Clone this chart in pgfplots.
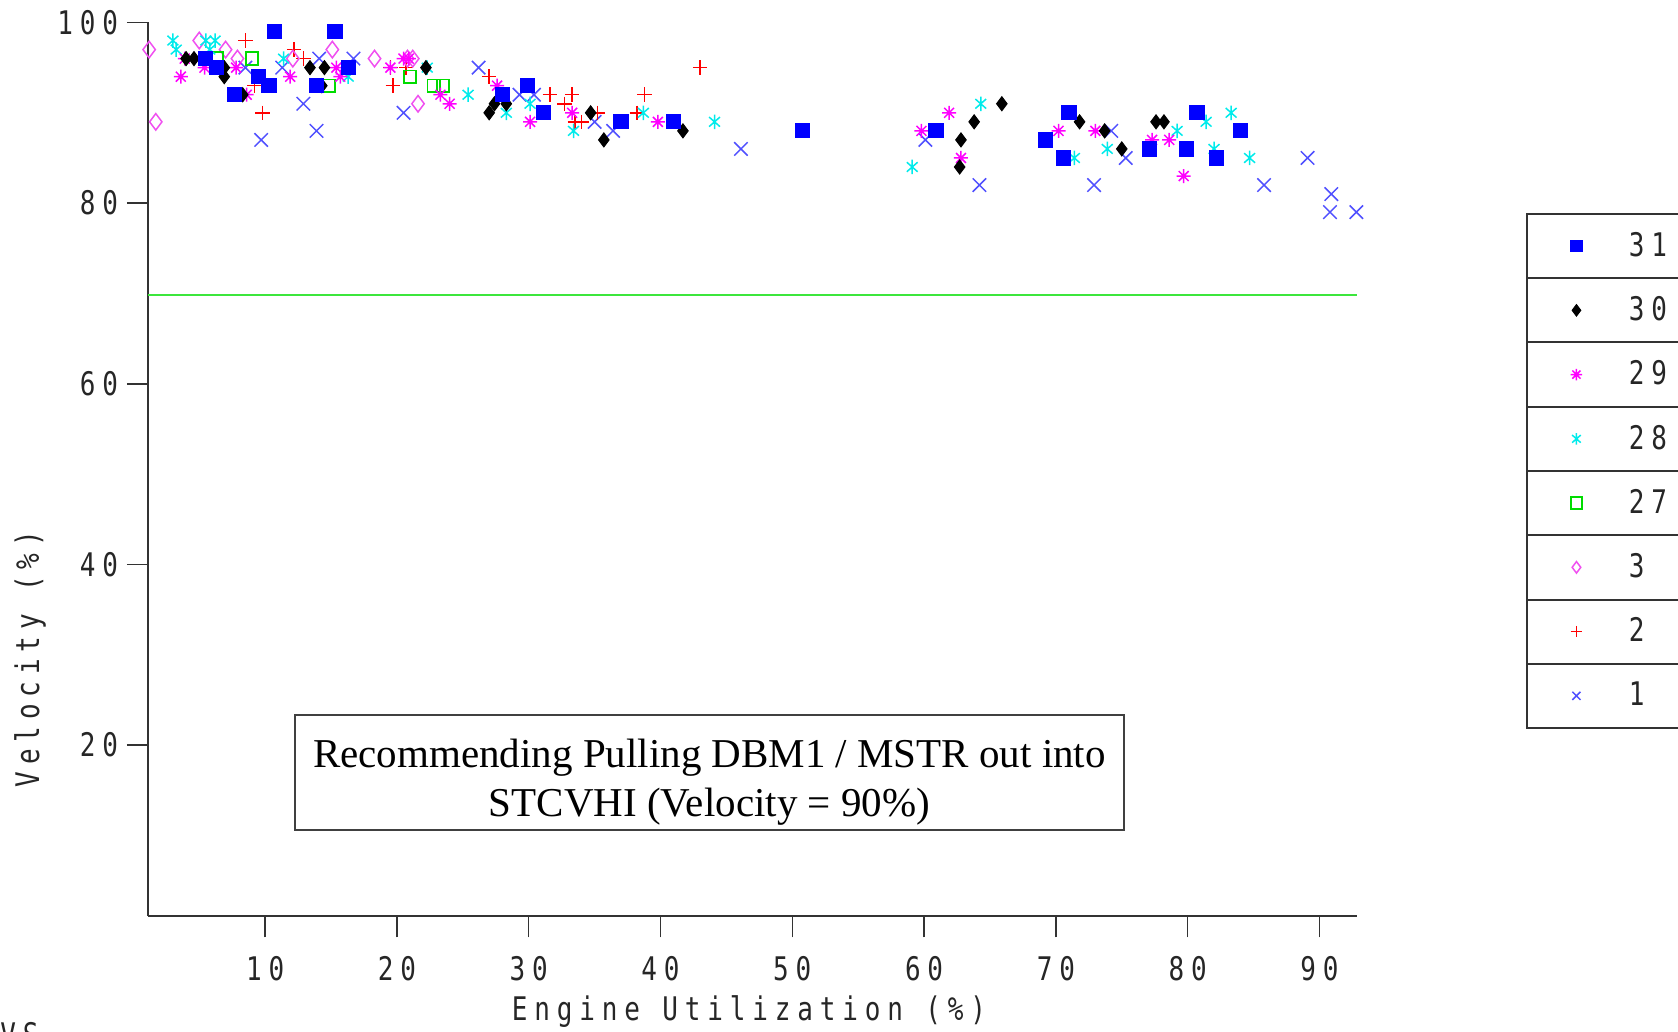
\documentclass[border=0pt]{standalone}
\usepackage{pgfplots}
\pgfplotsset{compat=1.18}
\usepackage{fontspec}
\setmainfont{Liberation Serif}
\newfontfamily\monof[FakeStretch=0.8,LetterSpace=21]{DejaVu Sans Mono}
\definecolor{cB}{RGB}{0,0,255}
\definecolor{cK}{RGB}{0,0,0}
\definecolor{cM}{RGB}{255,0,255}
\definecolor{cC}{RGB}{0,235,235}
\definecolor{cG}{RGB}{0,220,0}
\definecolor{cP}{RGB}{240,80,240}
\definecolor{cR}{RGB}{255,0,0}
\definecolor{cX}{RGB}{80,80,255}
\definecolor{cLine}{RGB}{60,230,60}
\pgfdeclareplotmark{asteight}{%
  \pgfpathmoveto{\pgfqpoint{-\pgfplotmarksize}{0pt}}\pgfpathlineto{\pgfqpoint{\pgfplotmarksize}{0pt}}%
  \pgfpathmoveto{\pgfqpoint{0pt}{-\pgfplotmarksize}}\pgfpathlineto{\pgfqpoint{0pt}{\pgfplotmarksize}}%
  \pgfpathmoveto{\pgfqpoint{-.707\pgfplotmarksize}{-.707\pgfplotmarksize}}\pgfpathlineto{\pgfqpoint{.707\pgfplotmarksize}{.707\pgfplotmarksize}}%
  \pgfpathmoveto{\pgfqpoint{-.707\pgfplotmarksize}{.707\pgfplotmarksize}}\pgfpathlineto{\pgfqpoint{.707\pgfplotmarksize}{-.707\pgfplotmarksize}}%
  \pgfusepathqstroke}
\pgfdeclareplotmark{astsix}{%
  \pgfpathmoveto{\pgfqpoint{0pt}{-\pgfplotmarksize}}\pgfpathlineto{\pgfqpoint{0pt}{\pgfplotmarksize}}%
  \pgfpathmoveto{\pgfqpoint{-.75\pgfplotmarksize}{-.66\pgfplotmarksize}}\pgfpathlineto{\pgfqpoint{.75\pgfplotmarksize}{.66\pgfplotmarksize}}%
  \pgfpathmoveto{\pgfqpoint{-.75\pgfplotmarksize}{.66\pgfplotmarksize}}\pgfpathlineto{\pgfqpoint{.75\pgfplotmarksize}{-.66\pgfplotmarksize}}%
  \pgfusepathqstroke}
\newcommand{\lblfont}{\monof\fontsize{13}{15}\selectfont}
\begin{document}
\begin{tikzpicture}
\begin{axis}[
  name=ax,
  scale only axis,
  width=483.5pt, height=357.4pt,
  xmin=1.13, xmax=92.85, ymin=1.07, ymax=100,
  axis lines=left,
  axis line style={-, black!80, line width=0.8pt},
  xtick={10,20,30,40,50,60,70,80,90},
  ytick={20,40,60,80,100},
  tick align=outside,
  major tick length=8.5pt,
  tick style={black!80, line width=0.6pt},
  /pgf/number format/assume math mode=true,
  ticklabel style={font=\lblfont, text=black!85},
  xticklabel style={anchor=center, inner sep=0pt, yshift=-12.4pt},
  yticklabel style={anchor=east, inner sep=0pt, xshift=-3.4pt},
  xlabel={Engine Utilization (\%)},
  ylabel={Velocity (\%)},
  label style={font=\lblfont, text=black!85},
  xlabel style={at={(axis description cs:0.497,-0.1066)}, anchor=center},
  ylabel style={at={(axis description cs:-0.0978,0.2875)}, anchor=center},
  clip=false,
  reverse legend,
  legend style={at={(axis description cs:1.1408,0.7857)}, anchor=north west,
    draw=none, fill=none, inner sep=0pt, outer sep=0pt, row sep=0pt, column sep=14.7pt,
    nodes={minimum height=25.7pt, inner sep=0pt, anchor=west, font=\lblfont, text=black!85}},
  legend image code/.code={\path[draw=none,fill=none] (0pt,0pt) rectangle (26pt,0pt); \draw[#1] plot coordinates {(19.7pt,0pt)};},
  every legend image post/.style={mark size=2.3pt},
]
\addplot[cLine, line width=0.8pt, forget plot] coordinates {(1.13,69.8) (92.85,69.8)};
% series 1
\addplot[only marks, mark=x, mark size=3.8pt, color=cX, line width=0.6pt] coordinates {
(8.5,95) (11.3,95) (9.7,87) (12.9,91) (14.1,96) (13.9,88) (16.7,96) (20.5,90) (26.2,95) (29.3,92) (30.4,92) (35,89) (36.4,88) (46.1,86) (60.1,87) (64.2,82) (72.9,82) (74.2,88) (75.3,85) (85.8,82) (89.1,85) (90.9,81) (90.8,79) (92.8,79)};
\addlegendentry{1}
% series 2
\addplot[only marks, mark=+, mark size=2.9pt, color=cR, line width=0.6pt] coordinates {
(8.5,98) (9.2,93) (9.8,90) (12.2,97) (12.9,96) (19.5,95) (19.7,93) (20.7,95) (27,94) (31.6,92) (32.7,91) (33.3,92) (33.5,89) (34,89) (35.2,90) (38.2,90) (38.8,92) (43,95)};
\addlegendentry{2}
% series 3
\addplot[only marks, mark=diamond, mark size=3.3pt, color=cP, line width=0.6pt] coordinates {
(1.2,97) (1.7,89) (5.0,98) (7.0,97) (7.9,96) (12.1,96) (15.1,97) (18.3,96) (20.8,96) (21.2,96) (21.6,91)};
\addlegendentry{3}
% series 27
\addplot[only marks, mark=square, mark size=2.5pt, color=cG, line width=0.7pt] coordinates {
(6.3,96) (9,96) (14.8,93) (21,94) (22.8,93) (23.5,93)};
\addlegendentry{27}
% series 28
\addplot[only marks, mark=astsix, mark size=2.9pt, color=cC, line width=0.6pt] coordinates {
(3.0,98) (3.25,97) (5.5,98) (6.2,98) (5.8,97) (11.4,96) (16.3,94) (22.3,95) (25.4,92) (28.3,90) (30.1,91) (33.4,88) (38.7,90) (44.1,89) (59.1,84) (64.3,91) (71.4,85) (73.9,86) (79.2,88) (81.4,89) (83.3,90) (82,86) (84.7,85)};
\addlegendentry{28}
% series 29
\addplot[only marks, mark=asteight, mark size=2.8pt, color=cM, line width=0.6pt] coordinates {
(3.6,94) (3.9,96) (5.4,95) (7.8,95) (8.6,92) (11.9,94) (15.4,95) (15.7,94) (19.5,95) (20.5,96) (20.9,96) (23.3,92) (24.0,91) (27.6,93) (30.1,89) (33.3,90) (39.8,89) (61.9,90) (59.8,88) (62.8,85) (70.2,88) (73,88) (77.3,87) (78.6,87) (79.7,83)};
\addlegendentry{29}
% series 30
\addplot[only marks, mark=diamond*, mark size=2.8pt, color=cK, fill=cK] coordinates {
(4.0,96) (4.6,96) (6.9,95) (6.9,94) (8.3,92) (13.4,95) (14.5,95) (14.3,93) (22.2,95) (27,90) (27.4,91) (28.3,91) (34.7,90) (35.7,87) (41.7,88) (65.9,91) (63.8,89) (62.8,87) (62.7,84) (71.8,89) (73.7,88) (75,86) (77.6,89) (78.2,89)};
\addlegendentry{30}
% series 31
\addplot[only marks, mark=square*, mark size=2.85pt, color=cB, fill=cB] coordinates {
(5.5,96) (6.3,95) (7.7,92) (9.5,94) (10.3,93) (10.7,99) (13.9,93) (15.3,99) (16.3,95) (28,92) (29.9,93) (31.1,90) (37,89) (41,89) (50.8,88) (60.9,88) (69.2,87) (70.6,85) (71,90) (77.1,86) (79.9,86) (80.7,90) (82.2,85) (84,88)};
\addlegendentry{31}
\node[draw=black!75, line width=0.8pt, minimum width=331.3pt, minimum height=46.2pt, inner sep=0pt] at (axis description cs:0.4643,0.1606) {};
\node[align=center, inner sep=0pt, font=\fontsize{16.4}{19.7}\selectfont, yshift=-3.9pt] at (axis description cs:0.4643,0.1606) {Recommending Pulling DBM1 / MSTR out into\\STCVHI (Velocity = 90\%)};
\end{axis}
\draw[black!80, line width=0.8pt] ([shift={(551.6pt,280.8pt)}]ax.south west) rectangle ([shift={(720pt,75.2pt)}]ax.south west);
\foreach \k in {1,...,7} {
  \draw[black!80, line width=0.8pt] ([shift={(551.6pt,{280.8pt-\k*25.7pt})}]ax.south west) -- ++(170pt,0pt);
}
\node[anchor=north west, inner sep=0pt, font=\lblfont, text=black!85] at ([shift={(-59.3pt,-42.4pt)}]ax.south west) {VS};
\pgfresetboundingbox
\useasboundingbox ([shift={(-59.3pt,-46pt)}]ax.south west) rectangle ([shift={(611.9pt,366.4pt)}]ax.south west);
\end{tikzpicture}
\end{document}
